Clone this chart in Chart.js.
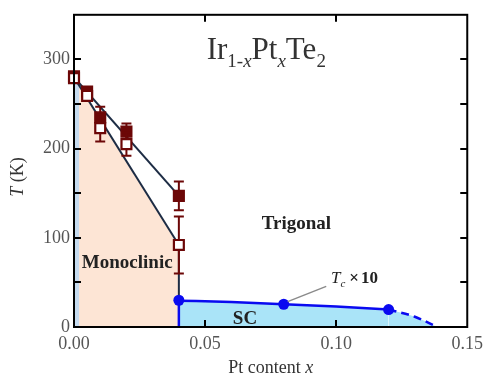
<!DOCTYPE html>
<html>
<head>
<meta charset="utf-8">
<script src="https://cdn.jsdelivr.net/npm/chart.js@4"></script>
<style>
html,body{margin:0;padding:0;background:#fff;}
#c{display:block;}
</style>
</head>
<body>
<canvas id="c" width="489" height="379"></canvas>
<script>
// ---- data ----
const xPts = [0, 0.005, 0.01, 0.02, 0.04];
const tFilled = [281, 264, 235, 219, 147];
const errFilled = [0, 0, 12, 9, 16];
const tOpen = [279, 259, 223, 205, 92];
const errOpen = [0, 0, 15, 13, 32];

const upperX = [0, 0.04];
const upperT = [280, 147];
const lowerX = [0, 0.04];
const lowerT = [280, 92];
const boundaryX = [0.04, 0.04];
const boundaryT = [92, 30];

const stripX = [0, 0.002];
const stripT = [279, 272];

const scX = [0.04, 0.06, 0.08, 0.10, 0.12];
const scT = [29.5, 28, 25.5, 23, 19.5];
const scDashX = [0.12, 0.13, 0.1385];
const scDashT = [19.5, 11.5, 0];
const scEdgeX = [0.04, 0.04];
const scEdgeT = [30, 0];
const dotX = [0.04, 0.08, 0.12];
const dotT = [30, 25.5, 19.5];

const xTicks = [0, 0.05, 0.10, 0.15];
const yTicks = [0, 50, 100, 150, 200, 250, 300, 350];

const pts = (xs, ys) => xs.map((x, i) => ({x: x, y: ys[i]}));

const SERIF = "'Liberation Serif', 'Times New Roman', serif";
const NAVY = '#1d2c44';
const DARKRED = '#6c0707';
const BLUE = '#0a0af0';

const datasets = [
  {data: pts(lowerX, lowerT), showLine: true, borderWidth: 0, pointRadius: 0,
   fill: 'origin', backgroundColor: '#fde5d5', order: 20},
  {data: pts(stripX, stripT), showLine: true, borderWidth: 0, pointRadius: 0,
   fill: 'origin', backgroundColor: '#c6dbef', order: 19},
  {data: pts(scX, scT), showLine: true, borderColor: BLUE, borderWidth: 2.5, pointRadius: 0,
   cubicInterpolationMode: 'monotone', fill: 'origin', backgroundColor: '#aae4f8', order: 18},
  {data: pts(scDashX, scDashT), showLine: true, borderColor: BLUE, borderWidth: 2.5, pointRadius: 0,
   borderDash: [8, 5], cubicInterpolationMode: 'monotone', fill: 'origin', backgroundColor: '#aae4f8', order: 17},
  {data: pts(upperX, upperT), showLine: true, borderColor: NAVY, borderWidth: 2, pointRadius: 0, order: 15},
  {data: pts(lowerX, lowerT), showLine: true, borderColor: NAVY, borderWidth: 2, pointRadius: 0, order: 14},
  {data: pts(boundaryX, boundaryT), showLine: true, borderColor: NAVY, borderWidth: 2, pointRadius: 0, order: 13},
  {data: pts(scEdgeX, scEdgeT), showLine: true, borderColor: BLUE, borderWidth: 2.5, pointRadius: 0, order: 12},
  {data: pts(xPts, tFilled), errors: errFilled, showLine: false, pointStyle: 'rect', pointRadius: 7.5,
   backgroundColor: DARKRED, borderColor: DARKRED, borderWidth: 1.5, order: 5, clip: false},
  {data: pts(xPts, tOpen), errors: errOpen, showLine: false, pointStyle: 'rect', pointRadius: 7,
   backgroundColor: '#ffffff', borderColor: DARKRED, borderWidth: 2.2, order: 4, clip: false},
  {data: pts(dotX, dotT), showLine: false, pointStyle: 'circle', pointRadius: 5.5,
   backgroundColor: BLUE, borderColor: BLUE, borderWidth: 0, order: 3, clip: false}
];

function drawRuns(ctx, x, y, runs, color) {
  let cx = x;
  ctx.fillStyle = color;
  ctx.textBaseline = 'alphabetic';
  ctx.textAlign = 'left';
  for (const r of runs) {
    ctx.font = r.f;
    ctx.fillText(r.t, cx, y + (r.dy || 0));
    cx += ctx.measureText(r.t).width + (r.k || 0);
  }
}
function runsWidth(ctx, runs) {
  let w = 0;
  for (const r of runs) { ctx.font = r.f; w += ctx.measureText(r.t).width + (r.k || 0); }
  return w;
}

const errorBars = {
  id: 'errorBars',
  beforeDatasetDraw(chart, args) {
    const ds = chart.data.datasets[args.index];
    if (!ds.errors) return;
    const ctx = chart.ctx, xs = chart.scales.x, ys = chart.scales.y;
    ctx.save();
    ctx.strokeStyle = DARKRED;
    ctx.lineWidth = 2;
    ds.data.forEach((p, i) => {
      const e = ds.errors[i];
      if (!e) return;
      const px = xs.getPixelForValue(p.x);
      const top = ys.getPixelForValue(p.y + e);
      const bot = ys.getPixelForValue(p.y - e);
      ctx.beginPath();
      ctx.moveTo(px, top); ctx.lineTo(px, bot);
      ctx.moveTo(px - 5, top); ctx.lineTo(px + 5, top);
      ctx.moveTo(px - 5, bot); ctx.lineTo(px + 5, bot);
      ctx.stroke();
    });
    ctx.restore();
  }
};

const decor = {
  id: 'decor',
  afterDraw(chart) {
    const ctx = chart.ctx, a = chart.chartArea;
    const xs = chart.scales.x, ys = chart.scales.y;
    ctx.save();
    // inward ticks
    ctx.strokeStyle = '#000';
    ctx.lineWidth = 2;
    ctx.beginPath();
    yTicks.forEach(v => {
      if (v <= 0 || v >= 350) return;
      const py = Math.round(ys.getPixelForValue(v));
      ctx.moveTo(a.left, py); ctx.lineTo(a.left + 7, py);
      ctx.moveTo(a.right, py); ctx.lineTo(a.right - 7, py);
    });
    xTicks.forEach(v => {
      if (v <= 0 || v >= 0.15) return;
      const px = Math.round(xs.getPixelForValue(v));
      ctx.moveTo(px, a.bottom); ctx.lineTo(px, a.bottom - 7);
      ctx.moveTo(px, a.top); ctx.lineTo(px, a.top + 7);
    });
    ctx.stroke();
    // frame
    ctx.lineWidth = 2;
    ctx.strokeRect(a.left, a.top, a.right - a.left, a.bottom - a.top);

    // leader line for Tc x10
    ctx.strokeStyle = '#8a8a8a';
    ctx.lineWidth = 1.5;
    ctx.beginPath();
    ctx.moveTo(xs.getPixelForValue(0.0815), ys.getPixelForValue(28.5));
    ctx.lineTo(xs.getPixelForValue(0.0962), ys.getPixelForValue(45.5));
    ctx.stroke();

    // title
    const F = 31, S = 19;
    drawRuns(ctx, xs.getPixelForValue(0.0506), ys.getPixelForValue(300), [
      {t: 'Ir', f: F + 'px ' + SERIF},
      {t: '1-', f: S + 'px ' + SERIF, dy: 8},
      {t: 'x', f: 'italic ' + S + 'px ' + SERIF, dy: 8},
      {t: 'Pt', f: F + 'px ' + SERIF},
      {t: 'x', f: 'italic ' + S + 'px ' + SERIF, dy: 8},
      {t: 'Te', f: F + 'px ' + SERIF},
      {t: '2', f: S + 'px ' + SERIF, dy: 8}
    ], '#333');

    // region labels
    const B = 'bold 19px ' + SERIF;
    drawRuns(ctx, xs.getPixelForValue(0.0716), ys.getPixelForValue(110), [{t: 'Trigonal', f: B}], '#222');
    drawRuns(ctx, xs.getPixelForValue(0.003), ys.getPixelForValue(66.5), [{t: 'Monoclinic', f: B}], '#222');
    drawRuns(ctx, xs.getPixelForValue(0.0606), ys.getPixelForValue(3), [{t: 'SC', f: B}], '#222');
    drawRuns(ctx, xs.getPixelForValue(0.098), ys.getPixelForValue(49), [
      {t: 'T', f: 'italic 17px ' + SERIF},
      {t: 'c', f: 'italic 11px ' + SERIF, dy: 4, k: 4},
      {t: '\u00d7', f: 'bold 17px ' + SERIF, k: 2},
      {t: '10', f: 'bold 17px ' + SERIF}
    ], '#222');

    // axis titles
    const xRuns = [
      {t: 'Pt content ', f: '18px ' + SERIF},
      {t: 'x', f: 'italic 18px ' + SERIF}
    ];
    const xw = runsWidth(ctx, xRuns);
    drawRuns(ctx, (a.left + a.right) / 2 - xw / 2, 373, xRuns, '#333');

    const yRuns = [
      {t: 'T', f: 'italic 18px ' + SERIF},
      {t: ' (K)', f: '18px ' + SERIF}
    ];
    const yw = runsWidth(ctx, yRuns);
    ctx.translate(23, 177);
    ctx.rotate(-Math.PI / 2);
    drawRuns(ctx, -yw / 2, 0, yRuns, '#333');
    ctx.restore();
  }
};

new Chart(document.getElementById('c'), {
  type: 'scatter',
  data: {datasets: datasets},
  options: {
    responsive: false,
    animation: false,
    events: [],
    layout: {padding: {top: 12, right: 19, left: 0, bottom: 0}},
    plugins: {legend: {display: false}, tooltip: {enabled: false}},
    scales: {
      x: {
        type: 'linear', min: 0, max: 0.15,
        afterBuildTicks(s) { s.ticks = xTicks.map(v => ({value: v})); },
        ticks: {callback: v => Number(v).toFixed(2), font: {family: SERIF, size: 18}, color: '#555',
                padding: 6, maxRotation: 0, autoSkip: false},
        grid: {display: false, drawTicks: false},
        border: {display: false},
        afterFit(s) { s.height = 52; }
      },
      y: {
        type: 'linear', min: 0, max: 350,
        afterBuildTicks(s) { s.ticks = yTicks.map(v => ({value: v})); },
        ticks: {callback: v => (v % 100 === 0 && v < 350) ? String(v) : '', font: {family: SERIF, size: 18},
                color: '#555', padding: 4, autoSkip: false},
        grid: {display: false, drawTicks: false},
        border: {display: false},
        afterFit(s) { s.width = 74; }
      }
    }
  },
  plugins: [errorBars, decor]
});
</script>
</body>
</html>
